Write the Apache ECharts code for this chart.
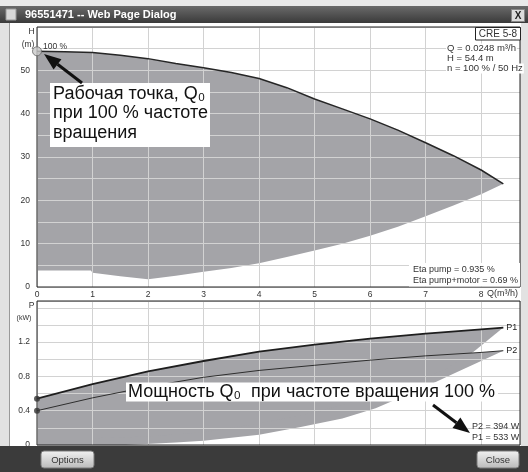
<!DOCTYPE html>
<html>
<head>
<meta charset="utf-8">
<title>96551471 -- Web Page Dialog</title>
<script src="https://cdn.jsdelivr.net/npm/echarts@6/dist/echarts.min.js"></script>
<style>
html, body { margin: 0; padding: 0; background: #fff; }
#chart { width: 528px; height: 472px; }
</style>
</head>
<body>
<div id="chart"></div>
<script>
// Q-H при 100 % частоты (верхняя граница поля)
const qMax = [0, 0.5, 1, 1.5, 2, 2.5, 3, 3.5, 4, 4.5, 5, 5.5, 6, 6.5, 7, 7.5, 8, 8.4];
const hMax = [54.4, 54.3, 54.1, 53.5, 52.7, 51.6, 50.6, 49.5, 48.1, 46.0, 43.4, 41.1, 38.8, 36.2, 33.3, 30.3, 27.0, 23.8];
// Q-H при минимальной частоте (нижняя граница поля)
const qMin = [0, 0.97, 1.0, 1.5, 2.0, 2.5, 3.0, 3.5, 4.0, 4.5, 5.0, 5.5, 6.0, 6.5, 7.0, 7.5, 8.0, 8.4];
const hMin = [3.8, 3.8, 3.3, 2.5, 1.8, 2.6, 3.5, 4.4, 5.5, 6.9, 8.4, 10.0, 11.8, 13.9, 16.3, 18.8, 21.4, 23.8];
// мощность P1 / P2 при 100 %
const qPow = [0, 1, 2, 3, 4, 5, 6, 7, 8, 8.4];
const p1Max = [0.54, 0.71, 0.86, 0.98, 1.09, 1.17, 1.24, 1.30, 1.35, 1.37];
const p2Max = [0.40, 0.55, 0.68, 0.79, 0.87, 0.93, 0.99, 1.04, 1.08, 1.10];
// нижние границы полей мощности
const qP1Min = [0, 1, 2, 3, 4, 5, 6, 6.5, 7, 7.4, 7.87, 8.4];
const p1Min = [0.08, 0.08, 0.1, 0.15, 0.25, 0.38, 0.55, 0.65, 0.78, 0.9, 1.09, 1.37];
const qP2Min = [0, 1.6, 2.5, 3, 4, 4.75, 5.5, 6.1, 7, 7.5, 8, 8.4];
const p2Min = [0, 0, 0.03, 0.05, 0.12, 0.21, 0.31, 0.43, 0.68, 0.83, 0.98, 1.10];

// подписи делений
const qTickLabels = [0, 1, 2, 3, 4, 5, 6, 7, 8];
const hTickLabels = [0, 10, 20, 30, 40, 50];
const pTickLabels = ['0', '0.4', '0.8', '1.2'];

const FONT = "'Liberation Sans', Arial, sans-serif";
const areaColor = '#a4a4a8';
const gridLineColor = '#d2d2d2';
const textColor = '#333';

const zip = (xs, ys) => xs.map((x, i) => [x, ys[i]]);

// закрашенное поле между двумя кривыми
function bandSeries(axisIndex, topQ, topV, botQ, botV) {
  return {
    type: 'custom',
    xAxisIndex: axisIndex,
    yAxisIndex: axisIndex,
    z: 1,
    silent: true,
    data: [[topQ[0], topV[0]]],
    renderItem: (params, api) => {
      const pts = [];
      topQ.forEach((q, i) => pts.push(api.coord([q, topV[i]])));
      for (let i = botQ.length - 1; i >= 0; i--) {
        pts.push(api.coord([botQ[i], botV[i]]));
      }
      return { type: 'polygon', shape: { points: pts }, style: { fill: areaColor } };
    }
  };
}

function arrow(tail, tip, head, half, width) {
  const dx = tip[0] - tail[0];
  const dy = tip[1] - tail[1];
  const len = Math.hypot(dx, dy);
  const ux = dx / len;
  const uy = dy / len;
  const bx = tip[0] - ux * head;
  const by = tip[1] - uy * head;
  return [
    { type: 'line', z: 20, shape: { x1: tail[0], y1: tail[1], x2: bx, y2: by }, style: { stroke: '#111', lineWidth: width } },
    { type: 'polygon', z: 20, shape: { points: [tip, [bx - uy * half, by + ux * half], [bx + uy * half, by - ux * half]] }, style: { fill: '#111' } }
  ];
}

function label(x, y, text, size, opts) {
  return {
    type: 'text', x: x, y: y, z: 20,
    style: Object.assign({
      text: text, fill: textColor, font: size + 'px ' + FONT, align: 'left', verticalAlign: 'middle'
    }, opts || {})
  };
}

function button(x, y, w, h, text) {
  return [
    {
      type: 'rect', z: 20,
      shape: { x: x, y: y, width: w, height: h, r: 3 },
      style: {
        fill: new echarts.graphic.LinearGradient(0, 0, 0, 1, [
          { offset: 0, color: '#f2f2f2' },
          { offset: 1, color: '#b9b9b9' }
        ]),
        stroke: '#7a7a7a', lineWidth: 1
      }
    },
    {
      type: 'text', z: 21, x: x + w / 2, y: y + h / 2 + 0.5,
      style: { text: text, fill: '#333', font: '9.5px ' + FONT, align: 'center', verticalAlign: 'middle' }
    }
  ];
}

const axisLabelBase = { color: textColor, fontSize: 8.5, fontFamily: FONT };
const whiteBg = { backgroundColor: '#fff', padding: [0, 1] };

const chrome = [
  { type: 'rect', z: 15, shape: { x: 0, y: 0, width: 528, height: 6 }, style: { fill: '#e9e9e9' } },
  {
    type: 'rect', z: 15, shape: { x: 0, y: 6, width: 528, height: 17 },
    style: {
      fill: new echarts.graphic.LinearGradient(0, 0, 0, 1, [
        { offset: 0, color: '#6a6a6a' },
        { offset: 1, color: '#3a3a3a' }
      ])
    }
  },
  { type: 'rect', z: 16, shape: { x: 6, y: 9, width: 10, height: 11 }, style: { fill: '#d8d8d8', stroke: '#999', lineWidth: 1 } },
  { type: 'text', z: 16, x: 25, y: 15, style: { text: '96551471 -- Web Page Dialog', fill: '#fff', font: 'bold 11px ' + FONT, verticalAlign: 'middle' } },
  { type: 'rect', z: 16, shape: { x: 511.5, y: 9.5, width: 13, height: 12 }, style: { fill: '#dcdcdc', stroke: '#888', lineWidth: 1 } },
  { type: 'text', z: 17, x: 518, y: 16, style: { text: 'X', fill: '#222', font: 'bold 10px ' + FONT, align: 'center', verticalAlign: 'middle' } },
  { type: 'rect', z: 15, shape: { x: 0, y: 23, width: 9, height: 424 }, style: { fill: '#e2e2e2' } },
  { type: 'line', z: 15, shape: { x1: 9.5, y1: 23, x2: 9.5, y2: 447 }, style: { stroke: '#9a9a9a', lineWidth: 1 } },
  { type: 'rect', z: 15, shape: { x: 521, y: 23, width: 7, height: 424 }, style: { fill: '#e2e2e2' } },
  { type: 'rect', z: 15, shape: { x: 0, y: 446, width: 528, height: 26 }, style: { fill: '#3b3b3b' } }
]
  .concat(button(41, 451, 53, 17, 'Options'))
  .concat(button(477, 451, 42, 17, 'Close'));

const notes = [
  // подписи осей
  label(31.5, 31.5, 'H', 8.5, { align: 'center' }),
  label(28, 44.5, '(m)', 8.5, { align: 'center' }),
  label(31.5, 305.5, 'P', 8.5, { align: 'center' }),
  label(24, 318, '(kW)', 7, { align: 'center' }),
  label(487, 293.5, 'Q(m³/h)', 9),
  label(43, 46.5, '100 %', 8.5),
  // рамка с типом насоса
  { type: 'rect', z: 20, shape: { x: 475.5, y: 27.5, width: 45, height: 12.5 }, style: { fill: '#fff', stroke: '#222', lineWidth: 1 } },
  label(498, 34, 'CRE 5-8', 10, { align: 'center' }),
  label(446, 48.5, 'Q = 0.0248 m³/h', 9.5, whiteBg),
  label(446, 58.5, 'H = 54.4 m', 9.5, whiteBg),
  label(446, 68.5, 'n = 100 % / 50 Hz', 9.5, whiteBg),
  // КПД
  { type: 'rect', z: 20, shape: { x: 409, y: 263, width: 111, height: 23.5 }, style: { fill: '#fff' } },
  label(413, 270, 'Eta pump = 0.935 %', 9),
  label(413, 280.5, 'Eta pump+motor = 0.69 %', 9),
  // мощность в рабочей точке
  label(472, 427, 'P2 = 394 W', 9),
  label(472, 438, 'P1 = 533 W', 9),
  // выноски
  { type: 'rect', z: 20, shape: { x: 50, y: 83, width: 160, height: 64 }, style: { fill: '#fff' } },
  {
    type: 'text', z: 21, x: 53, y: 84,
    style: { text: 'Рабочая точка, Q₀\nпри 100 % частоте\nвращения', fill: '#111', font: '18px ' + FONT, lineHeight: 19.5, verticalAlign: 'top' }
  },
  {
    type: 'text', z: 21, x: 126, y: 392,
    style: { text: 'Мощность Q₀  при частоте вращения 100 %', fill: '#111', font: '18px ' + FONT, verticalAlign: 'middle', backgroundColor: '#fff', padding: [1, 3, 0, 2] }
  }
]
  .concat(arrow([82, 83], [44, 54], 17, 6.5, 3))
  .concat(arrow([433, 405], [470, 433], 17, 6.5, 3));

const chart = echarts.init(document.getElementById('chart'));

const option = {
  backgroundColor: '#fff',
  animation: false,
  textStyle: { fontFamily: FONT },
  grid: [
    { left: 37, top: 27, width: 483, height: 260, show: true, borderColor: '#222', borderWidth: 1, backgroundColor: 'transparent', z: 5 },
    { left: 37, top: 301, width: 483, height: 144, show: true, borderColor: '#222', borderWidth: 1, backgroundColor: 'transparent', z: 5 }
  ],
  xAxis: [
    {
      type: 'value', gridIndex: 0, min: 0, max: 8.7, interval: 1, z: 3,
      axisLine: { show: false }, axisTick: { show: false },
      axisLabel: Object.assign({}, axisLabelBase, {
        margin: 3, showMaxLabel: false,
        formatter: (v) => (qTickLabels.includes(v) ? String(v) : '')
      }),
      splitLine: { show: true, lineStyle: { color: gridLineColor, width: 1 } }
    },
    {
      type: 'value', gridIndex: 1, min: 0, max: 8.7, interval: 1, z: 3,
      axisLine: { show: false }, axisTick: { show: false }, axisLabel: { show: false },
      splitLine: { show: true, lineStyle: { color: gridLineColor, width: 1 } }
    }
  ],
  yAxis: [
    {
      type: 'value', gridIndex: 0, min: 0, max: 60, interval: 5, z: 3,
      axisLine: { show: false }, axisTick: { show: false },
      axisLabel: Object.assign({}, axisLabelBase, {
        margin: 7, showMaxLabel: false,
        formatter: (v) => (hTickLabels.includes(v) ? String(v) : '')
      }),
      splitLine: { show: true, lineStyle: { color: gridLineColor, width: 1 } }
    },
    {
      type: 'value', gridIndex: 1, min: 0, max: 1.68, interval: 0.2, z: 3,
      axisLine: { show: false }, axisTick: { show: false },
      axisLabel: Object.assign({}, axisLabelBase, {
        margin: 7, showMaxLabel: false,
        formatter: (v) => {
          const s = String(+v.toFixed(2));
          return pTickLabels.includes(s) ? s : '';
        }
      }),
      splitLine: { show: true, lineStyle: { color: gridLineColor, width: 1 } }
    }
  ],
  series: [
    bandSeries(0, qMax, hMax, qMin, hMin),
    {
      type: 'line', xAxisIndex: 0, yAxisIndex: 0, z: 4,
      data: zip(qMax, hMax),
      showSymbol: false,
      lineStyle: { color: '#262626', width: 1.5 }
    },
    {
      type: 'scatter', xAxisIndex: 0, yAxisIndex: 0, z: 6, clip: false,
      data: [[qMax[0], hMax[0]]],
      symbolSize: 9,
      itemStyle: { color: '#c9c9c9', borderColor: '#666', borderWidth: 1 }
    },
    bandSeries(1, qPow, p2Max, qP2Min, p2Min),
    bandSeries(1, qPow, p1Max, qP1Min, p1Min),
    {
      type: 'line', xAxisIndex: 1, yAxisIndex: 1, z: 4,
      data: zip(qPow, p1Max),
      showSymbol: false,
      lineStyle: { color: '#1e1e1e', width: 1.8 },
      endLabel: { show: true, formatter: 'P1', distance: 3, color: '#222', fontSize: 9, fontFamily: FONT }
    },
    {
      type: 'line', xAxisIndex: 1, yAxisIndex: 1, z: 4,
      data: zip(qPow, p2Max),
      showSymbol: false,
      lineStyle: { color: '#2e2e2e', width: 1 },
      endLabel: { show: true, formatter: 'P2', distance: 3, color: '#222', fontSize: 9, fontFamily: FONT }
    },
    {
      type: 'scatter', xAxisIndex: 1, yAxisIndex: 1, z: 6, clip: false,
      data: [[qPow[0], p1Max[0]], [qPow[0], p2Max[0]]],
      symbolSize: 6,
      itemStyle: { color: '#333' }
    }
  ],
  graphic: { elements: chrome.concat(notes) }
};

chart.setOption(option);
</script>
</body>
</html>
